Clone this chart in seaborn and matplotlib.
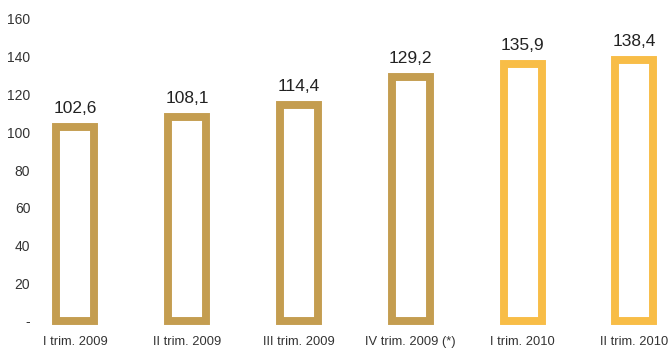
import matplotlib
matplotlib.use("Agg")
import matplotlib.pyplot as plt
import seaborn as sns
from matplotlib import font_manager

categories = ["I trim. 2009", "II trim. 2009", "III trim. 2009", "IV trim. 2009 (*)", "I trim. 2010", "II trim. 2010"]
values = [102.6, 108.1, 114.4, 129.2, 135.9, 138.4]
value_labels = ["102,6", "108,1", "114,4", "129,2", "135,9", "138,4"]
yticks = [0, 20, 40, 60, 80, 100, 120, 140, 160]
ytick_labels = ["-", "20", "40", "60", "80", "100", "120", "140", "160"]
colors = ["#C49D50", "#C49D50", "#C49D50", "#C49D50", "#F8BD47", "#F8BD47"]

sns.set_theme(style="white")
names = {f.name for f in font_manager.fontManager.ttflist}
fam = ["Liberation Sans Narrow", "DejaVu Sans"] if "Liberation Sans Narrow" in names else ["Liberation Sans", "DejaVu Sans"]
plt.rcParams["font.family"] = fam

W, H = 668, 352
fig = plt.figure(figsize=(W / 100, H / 100), dpi=100)
ax = fig.add_axes([40 / W, 31 / H, (W - 40) / W, 302 / H])

sns.barplot(x=categories, y=values, hue=categories, palette=colors, legend=False,
            fill=False, linewidth=5.7, width=0.34, ax=ax, saturation=1)
for p in ax.patches:
    p.set_clip_on(False)
    p.set_joinstyle("miter")

for i, (v, lab) in enumerate(zip(values, value_labels)):
    ax.annotate(lab, (i, v), xytext=(0, 8), textcoords="offset points",
                ha="center", va="bottom", fontsize=12.5, color="#222222")

ax.set_ylim(0, 160)
ax.set_xlim(-0.313, 5.30)
ax.set_yticks(yticks)
ax.set_yticklabels(ytick_labels, fontsize=10, color="#333333")
ax.tick_params(axis="x", labelsize=9.3, colors="#333333", pad=11, length=0)
ax.tick_params(axis="y", length=0, pad=7)
for s in ax.spines.values():
    s.set_visible(False)
ax.set_xlabel("")
ax.set_ylabel("")
ax.grid(False)

fig.savefig("out.png", dpi=100)
